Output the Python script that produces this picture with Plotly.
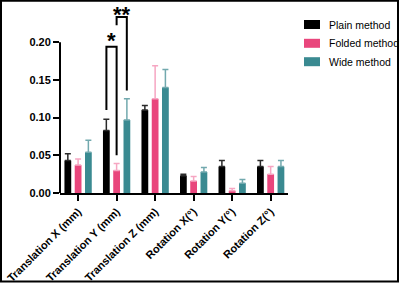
import plotly.graph_objects as go

categories = ["Translation X (mm)", "Translation Y (mm)", "Translation Z (mm)",
              "Rotation X(°)", "Rotation Y(°)", "Rotation Z(°)"]
plain = [0.043, 0.083, 0.110, 0.023, 0.035, 0.035]
plain_err = [0.009, 0.015, 0.006, 0.002, 0.008, 0.008]
folded = [0.037, 0.030, 0.125, 0.016, 0.003, 0.025]
folded_err = [0.008, 0.009, 0.044, 0.006, 0.003, 0.010]
wide = [0.054, 0.097, 0.140, 0.028, 0.013, 0.035]
wide_err = [0.016, 0.028, 0.024, 0.006, 0.005, 0.008]
series_names = ["Plain method", "Folded method", "Wide method"]
ytick_vals = [0.0, 0.05, 0.10, 0.15, 0.20]

colors = ["#000000", "#E9467C", "#3A8A91"]
err_colors = ["#2a2a2a", "#F6A6C2", "#72A9AE"]

fig = go.Figure()
for name, vals, errs, c, ec in zip(series_names, [plain, folded, wide],
                                   [plain_err, folded_err, wide_err], colors, err_colors):
    fig.add_trace(go.Bar(
        x=categories, y=vals, name=name, marker=dict(color=c, line=dict(width=0)),
        error_y=dict(type="data", symmetric=False, array=errs, arrayminus=[0]*len(errs),
                     color=ec, thickness=1.5, width=3),
        showlegend=False,
    ))

L, R, T, B = 60, 112, 0, 90
W, H = 400, 283
pw, ph = W - L - R, H - T - B
ytop = 0.2561

fig.update_layout(
    template="none",
    width=W, height=H, margin=dict(l=L, r=R, t=T, b=B, pad=0, autoexpand=False),
    paper_bgcolor="white", plot_bgcolor="white",
    barmode="group", bargap=0.2, bargroupgap=0.34,
    font=dict(family="Liberation Sans, Arial", color="black"),
)
fig.update_xaxes(
    range=[-0.47, 5.45], showline=True, linecolor="black", linewidth=2,
    ticks="outside", ticklen=6, tickwidth=2, tickcolor="black",
    tickangle=-45, tickfont=dict(size=11, weight="bold", color="black"),
    showgrid=False, zeroline=False, automargin=False,
)
fig.update_yaxes(
    range=[0, ytop], tickvals=ytick_vals, tickformat=".2f",
    showline=False, ticks="outside", ticklen=6, tickwidth=2, tickcolor="black",
    tickfont=dict(size=11, weight="bold", color="black"),
    showgrid=False, zeroline=False, automargin=False,
)

shapes = []
# y axis line drawn only up to 0.20
shapes.append(dict(type="line", xref="x domain", yref="y", x0=0, x1=0, y0=0,
                   y1=ytick_vals[-1], line=dict(color="black", width=2)))

# significance brackets over Translation Y
off = 0.265
ci = 1
xb, xp, xw = ci - off, ci, ci + off
top1 = 0.194
top2 = 0.2336
line_style = dict(color="black", width=2)
shapes.append(dict(type="path", xref="x", yref="y",
                   path=f"M {xb} {plain[ci]+plain_err[ci]+0.012} L {xb} {top1} L {xp} {top1} L {xp} {folded[ci]+folded_err[ci]+0.011}",
                   line=line_style))
shapes.append(dict(type="path", xref="x", yref="y",
                   path=f"M {xp} {top2-0.011} L {xp} {top2} L {xw} {top2} L {xw} {wide[ci]+wide_err[ci]+0.011}",
                   line=line_style))

annotations = [
    dict(x=(xb + xp) / 2, y=0.2025, xref="x", yref="y", text="<b>*</b>",
         showarrow=False, yanchor="middle", font=dict(size=22, color="black")),
    dict(x=(xp + xw) / 2, y=ytop, xref="x", yref="y", text="<b>**</b>",
         showarrow=False, yanchor="top", font=dict(size=22, color="black")),
]

def px_x(p):
    return (p - L) / pw

def px_y(p):
    return (H - B - p) / ph

leg_rows = [24.5, 43.3, 61.7]
for name, c, yy in zip(series_names, colors, leg_rows):
    shapes.append(dict(type="rect", xref="paper", yref="paper",
                       x0=px_x(304), x1=px_x(320), y0=px_y(yy + 4.5), y1=px_y(yy - 4.5),
                       fillcolor=c, line=dict(width=0)))
    annotations.append(dict(x=px_x(327), y=px_y(yy), xref="paper", yref="paper",
                            text=name, showarrow=False, xanchor="left", yanchor="middle",
                            font=dict(size=10.5, color="black")))

# image frame
shapes.append(dict(type="rect", xref="paper", yref="paper",
                   x0=px_x(1), x1=px_x(398), y0=px_y(281.5), y1=px_y(0.8),
                   line=dict(color="black", width=2), fillcolor="rgba(0,0,0,0)"))

fig.update_layout(shapes=shapes, annotations=annotations)
fig.write_html("out.html", config={"displayModeBar": False},
               post_script="document.body.style.margin='0';")
